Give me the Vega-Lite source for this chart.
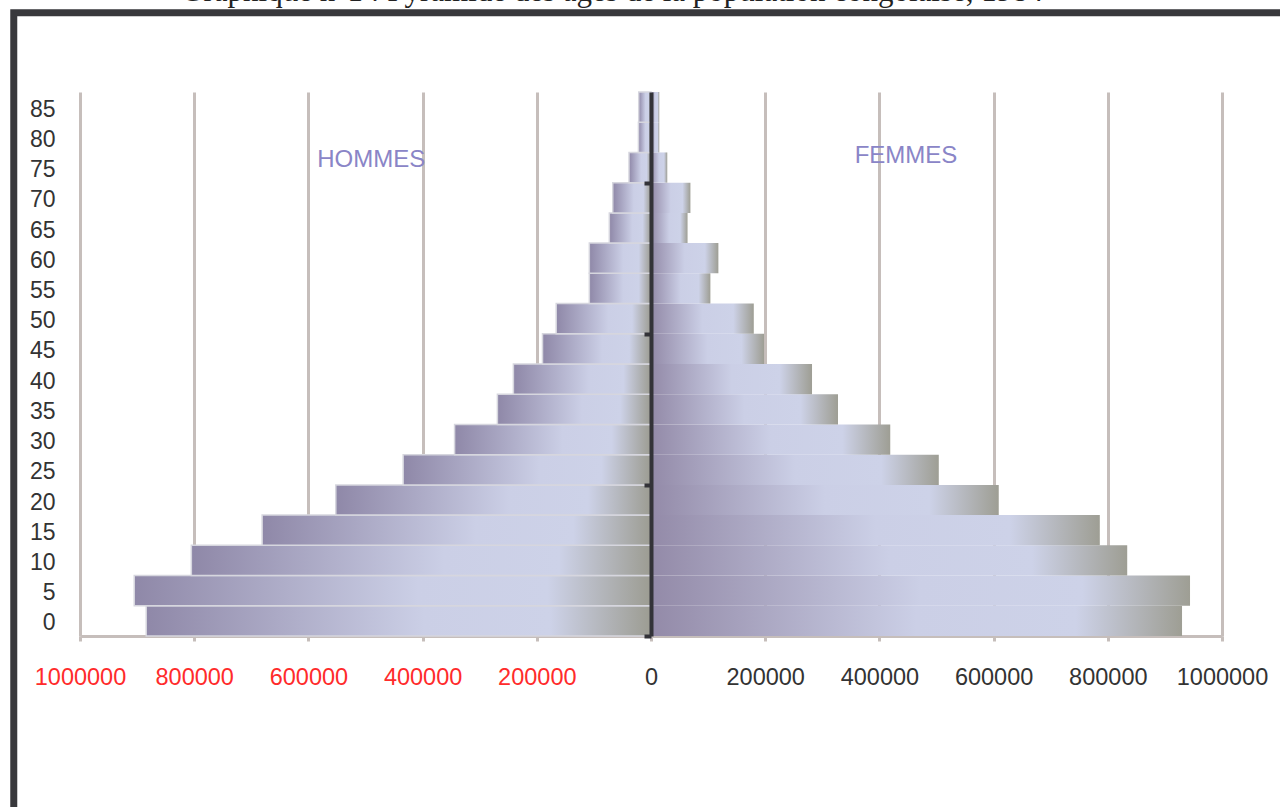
{
  "$schema": "https://vega.github.io/schema/vega-lite/v6.json",
  "width": 1142,
  "height": 544,
  "autosize": {"type": "none"},
  "padding": {"left": 80, "top": 92, "right": 58, "bottom": 171},
  "background": "white",
  "config": {"view": {"stroke": null}, "font": "Liberation Sans"},
  "data": {
    "values": [
      {"age": 0, "age_fin": 5, "sexe": "Hommes", "effectif": -884000},
      {"age": 5, "age_fin": 10, "sexe": "Hommes", "effectif": -905000},
      {"age": 10, "age_fin": 15, "sexe": "Hommes", "effectif": -805000},
      {"age": 15, "age_fin": 20, "sexe": "Hommes", "effectif": -681000},
      {"age": 20, "age_fin": 25, "sexe": "Hommes", "effectif": -552000},
      {"age": 25, "age_fin": 30, "sexe": "Hommes", "effectif": -434000},
      {"age": 30, "age_fin": 35, "sexe": "Hommes", "effectif": -344000},
      {"age": 35, "age_fin": 40, "sexe": "Hommes", "effectif": -269000},
      {"age": 40, "age_fin": 45, "sexe": "Hommes", "effectif": -241000},
      {"age": 45, "age_fin": 50, "sexe": "Hommes", "effectif": -190000},
      {"age": 50, "age_fin": 55, "sexe": "Hommes", "effectif": -166000},
      {"age": 55, "age_fin": 60, "sexe": "Hommes", "effectif": -108000},
      {"age": 60, "age_fin": 65, "sexe": "Hommes", "effectif": -108000},
      {"age": 65, "age_fin": 70, "sexe": "Hommes", "effectif": -73000},
      {"age": 70, "age_fin": 75, "sexe": "Hommes", "effectif": -67000},
      {"age": 75, "age_fin": 80, "sexe": "Hommes", "effectif": -38500},
      {"age": 80, "age_fin": 85, "sexe": "Hommes", "effectif": -22000},
      {"age": 85, "age_fin": 90, "sexe": "Hommes", "effectif": -21500},
      {"age": 0, "age_fin": 5, "sexe": "Femmes", "effectif": 930000},
      {"age": 5, "age_fin": 10, "sexe": "Femmes", "effectif": 944000},
      {"age": 10, "age_fin": 15, "sexe": "Femmes", "effectif": 834000},
      {"age": 15, "age_fin": 20, "sexe": "Femmes", "effectif": 786000},
      {"age": 20, "age_fin": 25, "sexe": "Femmes", "effectif": 609000},
      {"age": 25, "age_fin": 30, "sexe": "Femmes", "effectif": 504000},
      {"age": 30, "age_fin": 35, "sexe": "Femmes", "effectif": 419000},
      {"age": 35, "age_fin": 40, "sexe": "Femmes", "effectif": 327500},
      {"age": 40, "age_fin": 45, "sexe": "Femmes", "effectif": 282000},
      {"age": 45, "age_fin": 50, "sexe": "Femmes", "effectif": 198000},
      {"age": 50, "age_fin": 55, "sexe": "Femmes", "effectif": 180000},
      {"age": 55, "age_fin": 60, "sexe": "Femmes", "effectif": 104000},
      {"age": 60, "age_fin": 65, "sexe": "Femmes", "effectif": 118000},
      {"age": 65, "age_fin": 70, "sexe": "Femmes", "effectif": 64000},
      {"age": 70, "age_fin": 75, "sexe": "Femmes", "effectif": 69000},
      {"age": 75, "age_fin": 80, "sexe": "Femmes", "effectif": 28500},
      {"age": 80, "age_fin": 85, "sexe": "Femmes", "effectif": 14500},
      {"age": 85, "age_fin": 90, "sexe": "Femmes", "effectif": 14500}
    ]
  },
  "resolve": {"axis": {"y": "independent"}},
  "layer": [
    {
      "transform": [{"filter": "datum.sexe == 'Femmes'"}],
      "mark": {
        "type": "rect",
        "fill": {
          "gradient": "linear", "x1": 0, "x2": 1, "y1": 0, "y2": 0,
          "stops": [
            {"offset": 0, "color": "#938aa8"},
            {"offset": 0.5, "color": "#cbcfe6"},
            {"offset": 0.8, "color": "#cdd2e8"},
            {"offset": 1, "color": "#9e9e94"}
          ]
        }
      },
      "encoding": {
        "x": {
          "field": "effectif", "type": "quantitative",
          "scale": {"domain": [-1000000, 1000000], "nice": false},
          "axis": {
            "title": null,
            "values": [-1000000, -800000, -600000, -400000, -200000, 0, 200000, 400000, 600000, 800000, 1000000],
            "labelExpr": "format(abs(datum.value), 'd')",
            "labelColor": {"condition": {"test": "datum.value < 0", "value": "#ff2b2b"}, "value": "#333333"},
            "labelFontSize": 23.5,
            "labelPadding": 24,
            "labelOverlap": false,
            "labelBound": false,
            "labelFlush": false,
            "labelFont": "Liberation Sans",
            "grid": true, "gridColor": "#c6bebb", "gridWidth": 3,
            "domainColor": "#c6bebb", "domainWidth": 3,
            "tickColor": "#c6bebb", "tickWidth": 3, "tickSize": 5
          }
        },
        "x2": {"datum": 0},
        "y": {
          "field": "age", "type": "quantitative",
          "scale": {"domain": [0, 90], "nice": false, "zero": false},
          "axis": {
            "title": null,
            "values": [2.5, 7.5, 12.5, 17.5, 22.5, 27.5, 32.5, 37.5, 42.5, 47.5, 52.5, 57.5, 62.5, 67.5, 72.5, 77.5, 82.5, 87.5],
            "labelExpr": "format(datum.value - 2.5, 'd')",
            "domain": false, "ticks": false, "grid": false,
            "labelFontSize": 23, "labelColor": "#333333", "labelPadding": 25,
            "labelOffset": 2, "labelOverlap": false
          }
        },
        "y2": {"field": "age_fin"}
      }
    },
    {
      "transform": [{"filter": "datum.sexe == 'Hommes'"}],
      "mark": {
        "type": "rect",
        "stroke": "#d6d6de",
        "strokeWidth": 1.5,
        "fill": {
          "gradient": "linear", "x1": 0, "x2": 1, "y1": 0, "y2": 0,
          "stops": [
            {"offset": 0, "color": "#8f88a8"},
            {"offset": 0.55, "color": "#cbcfe6"},
            {"offset": 0.8, "color": "#cdd2e8"},
            {"offset": 1, "color": "#9c9c92"}
          ]
        }
      },
      "encoding": {
        "x": {"field": "effectif", "type": "quantitative"},
        "x2": {"datum": 0},
        "y": {"field": "age", "type": "quantitative", "axis": null},
        "y2": {"field": "age_fin"}
      }
    },
    {
      "data": {"values": [{"age": 0}, {"age": 90}]},
      "mark": {"type": "point", "opacity": 0},
      "encoding": {
        "x": {"datum": 0},
        "y": {
          "field": "age", "type": "quantitative",
          "axis": {
            "orient": "left", "offset": -571, "title": null,
            "values": [0, 25, 50, 75], "labels": false, "grid": false,
            "domainColor": "#333338", "domainWidth": 4,
            "tickColor": "#333338", "tickWidth": 4, "tickSize": 7,
            "zindex": 2
          }
        }
      }
    },
    {
      "data": {"values": [{"libelle": "HOMMES"}]},
      "mark": {"type": "text", "fontSize": 24, "color": "#8a85c7", "font": "Liberation Sans"},
      "encoding": {
        "text": {"field": "libelle"},
        "x": {"datum": -490000},
        "y": {"datum": 78.8, "axis": null}
      }
    },
    {
      "data": {"values": [{"libelle": "FEMMES"}]},
      "mark": {"type": "text", "fontSize": 24, "color": "#8a85c7", "font": "Liberation Sans"},
      "encoding": {
        "text": {"field": "libelle"},
        "x": {"datum": 446600},
        "y": {"datum": 79.4, "axis": null}
      }
    },
    {
      "data": {"values": [{"titre": "Graphique n°1 : Pyramide des âges de la population congolaise, 1984"}]},
      "mark": {"type": "text", "fontSize": 31, "color": "#222222", "font": "Liberation Serif", "baseline": "alphabetic", "align": "center"},
      "encoding": {
        "text": {"field": "titre"},
        "x": {"datum": -68000},
        "y": {"datum": 105.1, "axis": null}
      }
    },
    {
      "data": {"values": [{}]},
      "mark": {"type": "rect", "fill": null, "stroke": "#38383c", "strokeWidth": 7},
      "encoding": {
        "x": {"datum": -1116000},
        "x2": {"datum": 1250000},
        "y": {"datum": 103.1, "axis": null},
        "y2": {"datum": -40}
      }
    }
  ]
}
